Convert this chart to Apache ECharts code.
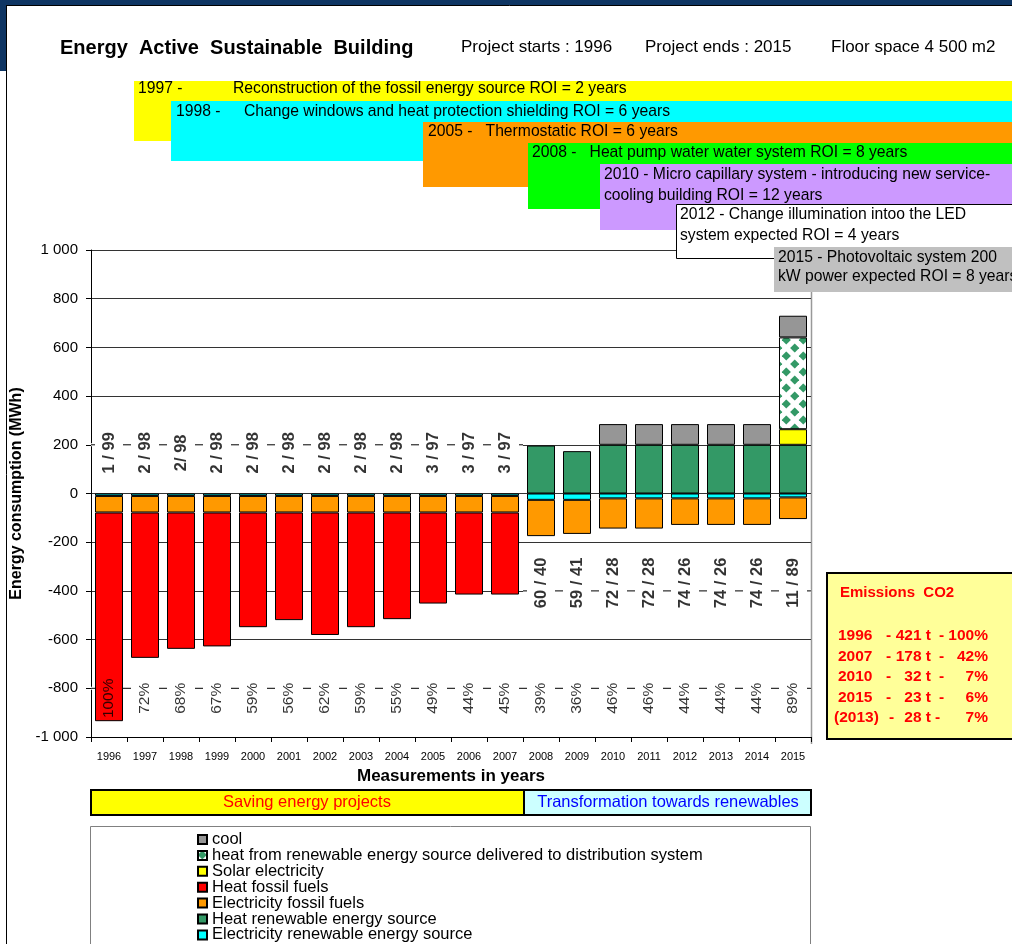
<!DOCTYPE html>
<html><head><meta charset="utf-8">
<script src="https://cdn.jsdelivr.net/npm/echarts@6/dist/echarts.min.js"></script>
<style>html,body{margin:0;padding:0;background:#fff}#c{width:1012px;height:944px}</style>
</head><body><div id="c"></div>
<script>
// ---------------- DATA ----------------
const years = ['1996','1997','1998','1999','2000','2001','2002','2003','2004','2005','2006','2007','2008','2009','2010','2011','2012','2013','2014','2015'];
const elecRenewable = [-10,-10,-10,-10,-10,-10,-10,-10,-10,-10,-10,-10,-26,-26,-20,-20,-20,-20,-20,-16];
const elecFossil   = [-68,-68,-68,-68,-68,-68,-68,-68,-68,-68,-68,-68,-149,-140,-124,-124,-109,-109,-109,-89];
const heatFossil   = [-857,-597,-560,-550,-471,-442,-503,-471,-438,-374,-337,-337,null,null,null,null,null,null,null,null];
const heatRenewable= [null,null,null,null,null,null,null,null,null,null,null,null,197,174,200,200,200,200,200,200];
const solarElec    = [null,null,null,null,null,null,null,null,null,null,null,null,null,null,null,null,null,null,null,64];
const heatDelivered= [null,null,null,null,null,null,null,null,null,null,null,null,null,null,null,null,null,null,null,377];
const cool         = [null,null,null,null,null,null,null,null,null,null,null,null,null,null,85,85,85,85,85,89];

const topLabels = ['1 / 99','2 / 98','2/ 98','2 / 98','2 / 98','2 / 98','2 / 98','2 / 98','2 / 98','3 / 97','3 / 97','3 / 97'];
const midLabels = ['60 / 40','59 / 41','72 / 28','72 / 28','74 / 26','74 / 26','74 / 26','11 / 89'];
const pctLabels = ['100%','72%','68%','67%','59%','56%','62%','59%','55%','49%','44%','45%','39%','36%','46%','46%','44%','44%','44%','89%'];
const topLevel = 200, midLevel = -400, pctLevel = -800;

const yTicks = {min:-1000, max:1000, interval:200};

const projects = [
  ['1997 -','Reconstruction of the fossil energy source ROI = 2 years'],
  ['1998 -','Change windows and heat protection shielding ROI = 6 years'],
  ['2005 -   Thermostatic ROI = 6 years'],
  ['2008 -   Heat pump water water system ROI = 8 years'],
  ['2010 - Micro capillary system - introducing new service-','cooling building ROI = 12 years'],
  ['2012 - Change illumination intoo the LED','system expected ROI = 4 years'],
  ['2015 - Photovoltaic system 200','kW power expected ROI = 8 years']
];
const co2Rows = [['1996','421 t','100%'],['2007','178 t','42%'],['2010','32 t','7%'],['2015','23 t','6%'],['(2013)','28 t','7%']];

// ---------------- STYLE ----------------
const FONT = "'Liberation Sans', Arial, sans-serif";
const ink = '#000';

function makePattern(){
  const c = document.createElement('canvas');
  c.width = 17; c.height = 16;
  const g = c.getContext('2d');
  g.fillStyle = '#ffffff'; g.fillRect(0,0,17,16);
  g.fillStyle = '#339966';
  const dia = (cx,cy,r)=>{g.beginPath();g.moveTo(cx,cy-r);g.lineTo(cx+r,cy);g.lineTo(cx,cy+r);g.lineTo(cx-r,cy);g.closePath();g.fill();};
  const pts = [[4.25,4],[12.75,12]];
  pts.forEach(p=>{[-17,0,17].forEach(dx=>[-16,0,16].forEach(dy=>dia(p[0]+dx,p[1]+dy,4.6)));});
  return c;
}
const pattern = {image: makePattern(), repeat: 'repeat'};

const chart = echarts.init(document.getElementById('c'), null, {renderer:'canvas'});

function barSeries(name, data, color){
  return {name, type:'bar', stack:'e', data, barWidth:28, z:2,
    itemStyle:{color, borderColor:'#000', borderWidth:1}, emphasis:{disabled:true}};
}
function guide(level, from, to){
  const d = [[from, level],[to, level]];
  return [
    {type:'line', xAxisIndex:1, data:d, symbol:'none', z:1, silent:true, lineStyle:{color:'#fff', width:3}},
    {type:'line', xAxisIndex:1, data:d, symbol:'none', z:1, silent:true, lineStyle:{color:'#000', width:1, type:[8,28], dashOffset:4}}
  ];
}
function labelSeries(texts, startIdx, level, bold, shiftDown, size){
  const data = texts.map((t,i)=>[years[startIdx+i], level]);
  return {type:'scatter', data, symbolSize:1, z:10, silent:true,
    itemStyle:{color:'rgba(0,0,0,0)'},
    label:{show:true, position:'inside', rotate:90, offset:[-shiftDown,0],
      formatter:p=>texts[p.dataIndex], fontFamily:FONT, fontSize:size,
      fontWeight: bold?'bold':'normal', color:'#000'}};
}

const g = [];
// page frame
g.push({type:'rect', shape:{x:0,y:0,width:1012,height:5}, style:{fill:'#0e3563'}, z:0});
g.push({type:'rect', shape:{x:0,y:0,width:6,height:71}, style:{fill:'#0e3563'}, z:0});
g.push({type:'line', shape:{x1:6.5,y1:5,x2:6.5,y2:944}, style:{stroke:'#000', lineWidth:1}});
g.push({type:'line', shape:{x1:6.5,y1:5.5,x2:1012,y2:5.5}, style:{stroke:'#000', lineWidth:1}});
// header
g.push({type:'text', x:60, y:48, style:{text:'Energy  Active  Sustainable  Building', font:`bold 20px ${FONT}`, fill:ink, verticalAlign:'middle'}});
g.push({type:'text', x:461, y:47, style:{text:'Project starts : 1996', font:`17px ${FONT}`, fill:ink, verticalAlign:'middle'}});
g.push({type:'text', x:645, y:47, style:{text:'Project ends : 2015', font:`17px ${FONT}`, fill:ink, verticalAlign:'middle'}});
g.push({type:'text', x:831, y:47, style:{text:'Floor space 4 500 m2', font:`17px ${FONT}`, fill:ink, verticalAlign:'middle'}});
// project boxes
const boxes = [
  {x:134,y:81,h:60,fill:'#ffff00'},
  {x:171,y:101,h:60,fill:'#00ffff'},
  {x:423,y:122,h:65,fill:'#ff9900'},
  {x:528,y:143,h:66,fill:'#00ff00'},
  {x:600,y:164,h:66,fill:'#cc99ff'},
  {x:676,y:204,h:54,fill:'#ffffff',stroke:'#000'},
  {x:774,y:247,h:45,fill:'#c0c0c0'}
];
const textPos = [
  [[138,89],[233,89]],
  [[176,112],[244,112]],
  [[428,132]],
  [[532,153]],
  [[604,175],[604,196]],
  [[680,215],[680,236]],
  [[778,258],[778,277]]
];
boxes.forEach((b,i)=>{
  g.push({type:'rect', shape:{x:b.x+(b.stroke?0.5:0), y:b.y+(b.stroke?0.5:0), width:1012-b.x+5, height:b.h}, style:{fill:b.fill, stroke:b.stroke||null, lineWidth:1}, z:1+i});
  projects[i].forEach((t,j)=>{
    g.push({type:'text', x:textPos[i][j][0], y:textPos[i][j][1], z:1+i, style:{text:t, font:`15.7px ${FONT}`, fill:ink, verticalAlign:'middle'}});
  });
});
// CO2 box
g.push({type:'rect', shape:{x:827,y:573,width:200,height:166}, style:{fill:'#ffff99', stroke:'#000', lineWidth:2}});
g.push({type:'text', x:840, y:593, style:{text:'Emissions  CO2', font:`bold 15px ${FONT}`, fill:'#ff0000', verticalAlign:'middle'}});
co2Rows.forEach((r,i)=>{
  const y = 636 + i*20.5;
  const red = {font:`bold 15.5px ${FONT}`, fill:'#ff0000', verticalAlign:'middle'};
  const paren = r[0].length>4;
  g.push({type:'text', x:paren?834:838, y, style:Object.assign({text:r[0]}, red)});
  g.push({type:'text', x:paren?889:886, y, style:Object.assign({text:'-'}, red)});
  g.push({type:'text', x:931, y, style:Object.assign({text:r[1], align:'right'}, red)});
  g.push({type:'text', x:paren?935:939, y, style:Object.assign({text:'-'}, red)});
  g.push({type:'text', x:988, y, style:Object.assign({text:r[2], align:'right'}, red)});
});
// phase band
g.push({type:'rect', shape:{x:91,y:790,width:433,height:25}, style:{fill:'#ffff00', stroke:'#000', lineWidth:2}});
g.push({type:'rect', shape:{x:524,y:790,width:287,height:25}, style:{fill:'#ccffff', stroke:'#000', lineWidth:2}});
g.push({type:'text', x:307, y:802.5, style:{text:'Saving energy projects', font:`16.5px ${FONT}`, fill:'#ff0000', align:'center', verticalAlign:'middle'}});
g.push({type:'text', x:668, y:802.5, style:{text:'Transformation towards renewables', font:`16.5px ${FONT}`, fill:'#0000ff', align:'center', verticalAlign:'middle'}});
// legend box
g.push({type:'rect', shape:{x:90.5,y:826.5,width:720,height:130}, style:{fill:'none', stroke:'#808080', lineWidth:1}, z:0});
// plot right border
g.push({type:'line', shape:{x1:811.5,y1:250,x2:811.5,y2:744}, style:{stroke:'#999', lineWidth:1.5}});

const fmtNum = v => (v<0?'-':'') + String(Math.abs(v)).replace(/\B(?=(\d{3})+(?!\d))/g,' ');

const option = {
  animation:false,
  backgroundColor:'#fff',
  textStyle:{fontFamily:FONT},
  grid:{left:91, right:201, top:250, bottom:207, containLabel:false, outerBoundsMode:'none'},
  legend:{
    orient:'vertical', left:197, top:831, height:200, padding:0, itemGap:-1.1, itemWidth:9, itemHeight:9,
    icon:'rect',
    textStyle:{fontFamily:FONT, fontSize:16.5, color:'#000', lineHeight:15.8},
    data:['cool','heat from renewable energy source delivered to distribution system','Solar electricity','Heat fossil fuels','Electricity fossil fuels','Heat renewable energy source','Electricity renewable energy source'],
    selectedMode:false
  },
  xAxis:[
    {type:'category', data:years, boundaryGap:true, position:'bottom',
      axisLine:{onZero:false, lineStyle:{color:'#000'}},
      axisTick:{show:true, interval:0, length:5, lineStyle:{color:'#000'}},
      axisLabel:{interval:0, fontSize:11, color:'#000', margin:14, fontFamily:FONT},
      name:'Measurements in years', nameLocation:'middle', nameGap:31,
      nameTextStyle:{fontSize:17, fontWeight:'bold', color:'#000', fontFamily:FONT}},
    {type:'value', min:0, max:years.length, show:false}
  ],
  yAxis:{type:'value', min:yTicks.min, max:yTicks.max, interval:yTicks.interval,
    axisLine:{show:true, lineStyle:{color:'#000'}},
    axisTick:{show:true, length:5, lineStyle:{color:'#000'}},
    axisLabel:{fontSize:15, color:'#000', margin:13, formatter:fmtNum, fontFamily:FONT},
    splitLine:{show:true, lineStyle:{color:'#333', width:1}},
    name:'Energy consumption (MWh)', nameLocation:'middle', nameGap:63,
    nameTextStyle:{fontSize:16, fontWeight:'bold', color:'#000', fontFamily:FONT}},
  graphic:g,
  series:[
    ...guide(topLevel, 0, 12),
    ...guide(midLevel, 12, 20),
    ...guide(pctLevel, 0, 20),
    barSeries('Electricity renewable energy source', elecRenewable, '#00ffff'),
    barSeries('Electricity fossil fuels', elecFossil, '#ff9900'),
    barSeries('Heat fossil fuels', heatFossil, '#ff0000'),
    barSeries('Heat renewable energy source', heatRenewable, '#339966'),
    barSeries('Solar electricity', solarElec, '#ffff00'),
    barSeries('heat from renewable energy source delivered to distribution system', heatDelivered, pattern),
    barSeries('cool', cool, '#969696'),
    labelSeries(topLabels, 0, topLevel, true, 8, 16.5),
    labelSeries(midLabels, 12, midLevel, true, -8, 16.5),
    labelSeries(pctLabels, 0, pctLevel, false, 10, 15.5)
  ]
};
chart.setOption(option);
</script></body></html>
